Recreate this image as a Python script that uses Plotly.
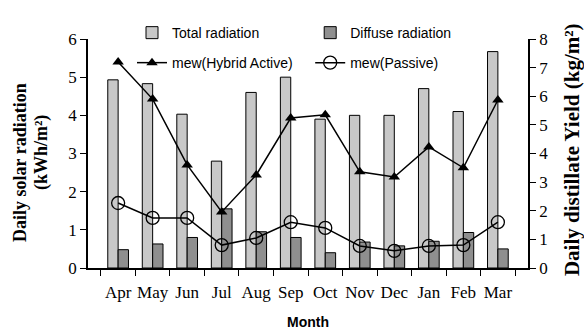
import plotly.graph_objects as go

months = ["Apr", "May", "Jun", "Jul", "Aug", "Sep", "Oct", "Nov", "Dec", "Jan", "Feb", "Mar"]
total_radiation = [4.93, 4.83, 4.03, 2.8, 4.6, 5.0, 3.9, 4.0, 4.0, 4.7, 4.1, 5.67]
diffuse_radiation = [0.48, 0.63, 0.8, 1.55, 0.95, 0.8, 0.4, 0.68, 0.58, 0.7, 0.93, 0.5]
mew_hybrid = [7.2, 5.9, 3.6, 1.96, 3.25, 5.24, 5.35, 3.36, 3.18, 4.23, 3.5, 5.87]
mew_passive = [2.27, 1.75, 1.75, 0.8, 1.05, 1.6, 1.4, 0.77, 0.6, 0.77, 0.8, 1.6]

serif = "Liberation Serif, Times New Roman, serif"
sans = "Liberation Sans, Arial, sans-serif"

fig = go.Figure()
fig.add_trace(go.Bar(x=months, y=total_radiation, name="Total radiation",
                     marker=dict(color="#c8c8c8", line=dict(color="black", width=1)),
                     legend="legend"))
fig.add_trace(go.Bar(x=months, y=diffuse_radiation, name="Diffuse radiation",
                     marker=dict(color="#8f8f8f", line=dict(color="black", width=1)),
                     legend="legend2"))
fig.add_trace(go.Scatter(x=months, y=mew_hybrid, name="mew(Hybrid Active)", yaxis="y2",
                         mode="lines+markers", line=dict(color="black", width=1.5),
                         marker=dict(symbol="triangle-up", size=10, color="black"),
                         legend="legend3"))
fig.add_trace(go.Scatter(x=months, y=mew_passive, name="mew(Passive)", yaxis="y2",
                         mode="lines+markers", line=dict(color="black", width=1.5),
                         marker=dict(symbol="circle-open", size=13, color="black", line=dict(width=1.3)),
                         legend="legend4"))

leg_common = dict(xanchor="left", yanchor="middle", bgcolor="rgba(0,0,0,0)",
                  font=dict(family=sans, size=14, color="black"), itemwidth=30)

title_font_l = dict(family=serif, size=18, color="black")
title_font_r = dict(family=serif, size=21, color="black")

fig.update_layout(
    width=584, height=335,
    margin=dict(l=88, r=56, t=39, b=67),
    paper_bgcolor="white", plot_bgcolor="white",
    barmode="group", bargap=0.4, bargroupgap=0,
    showlegend=True,
    legend=dict(x=0.10, y=1.026, **leg_common),
    legend2=dict(x=0.505, y=1.026, **leg_common),
    legend3=dict(x=0.10, y=0.895, **leg_common),
    legend4=dict(x=0.505, y=0.895, **leg_common),
    xaxis=dict(showline=True, linecolor="black", linewidth=1.5, automargin=False,
               ticks="outside", ticklen=6, tickcolor="black", tickson="boundaries",
               tickangle=0, ticklabelstandoff=8,
               tickfont=dict(family=serif, size=17, color="black"),
               title=dict(text="<b>Month</b>", font=dict(family=sans, size=14, color="black"),
                          standoff=16)),
    yaxis=dict(range=[0, 6], dtick=1, showline=True, linecolor="black", linewidth=1.5,
               ticks="outside", ticklen=6, tickcolor="black", showgrid=False, zeroline=False,
               automargin=False,
               tickfont=dict(family=serif, size=17, color="black")),
    yaxis2=dict(range=[0, 8], dtick=1, overlaying="y", side="right", showline=True,
                linecolor="black", linewidth=1.5, ticks="outside", ticklen=6, tickcolor="black",
                showgrid=False, zeroline=False, automargin=False,
                tickfont=dict(family=serif, size=17, color="black")),
    annotations=[
        dict(text="<b>Daily solar radiation</b>", xref="paper", yref="paper",
             x=-0.1545, y=0.4585, xanchor="center", yanchor="middle", textangle=-90,
             showarrow=False, font=title_font_l),
        dict(text="<b>(kWh/m²)</b>", xref="paper", yref="paper",
             x=-0.1068, y=0.502, xanchor="center", yanchor="middle", textangle=-90,
             showarrow=False, font=title_font_l),
        dict(text="<b>Daily distillate Yield (kg/m²)</b>", xref="paper", yref="paper",
             x=1.1, y=0.515, xanchor="center", yanchor="middle", textangle=-90,
             showarrow=False, font=title_font_r),
    ],
)

fig.write_html("out.html")
